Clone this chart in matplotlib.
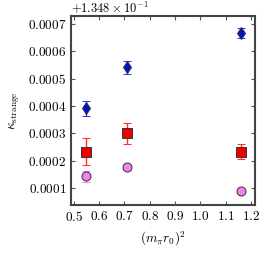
import matplotlib
matplotlib.use("Agg")
import matplotlib.pyplot as plt
import numpy as np

plt.rcParams.update({
    "font.family": "serif",
    "font.serif": ["cmr10"],
    "mathtext.fontset": "cm",
    "axes.formatter.use_mathtext": True,
    "axes.unicode_minus": False,
    "font.size": 9.5,
})

offset = 1.348e-1
x = [0.55, 0.71, 1.16]
blue_y = [0.000392, 0.000541, 0.000667]
blue_err = [0.000028, 0.000023, 0.000018]
red_y = [0.000233, 0.000301, 0.000233]
red_err = [0.000049, 0.000038, 0.000027]
violet_y = [0.000144, 0.000178, 0.000092]
violet_err = [0.000019, 0.000010, 0.000005]

fig = plt.figure(figsize=(2.74, 2.54), dpi=100)
ax = fig.add_axes([71/274, 1-205/254, (255-71)/274, (205-16)/254])

def plot(y, e, fmt, mfc, ecol, ms):
    ax.errorbar(x, np.array(y) + offset, yerr=e, fmt=fmt, mfc=mfc, mec="#333333",
                ecolor=ecol, capsize=3, ms=ms, elinewidth=1, mew=0.7, color=mfc)

plot(blue_y, blue_err, "d", "#0010d0", "#3030ff", 6.5)
plot(red_y, red_err, "s", "#ee0000", "#ff3030", 6.5)
plot(violet_y, violet_err, "o", "#ee82ee", "#ee82ee", 6.5)

ax.set_xlim(0.489, 1.216)
ax.set_ylim(offset + 0.0000395, offset + 0.000728)
ax.set_xticks([0.5, 0.6, 0.7, 0.8, 0.9, 1.0, 1.1, 1.2])
ax.set_yticks([offset + v for v in [0.0001, 0.0002, 0.0003, 0.0004, 0.0005, 0.0006, 0.0007]])
ax.ticklabel_format(axis="y", useOffset=offset, style="plain")
ax.yaxis.OFFSETTEXTPAD = 3
ax.yaxis.get_offset_text().set_fontsize(9)
ax.tick_params(direction="in", top=True, right=True, length=3, color="#555555")
for s in ax.spines.values():
    s.set_linewidth(1.5)
    s.set_color("#444444")
ax.set_xlabel(r"$(m_\pi r_0)^2$")
ax.set_ylabel(r"$\kappa_{\rm strange}$")
fig.savefig("out.png", dpi=100)
